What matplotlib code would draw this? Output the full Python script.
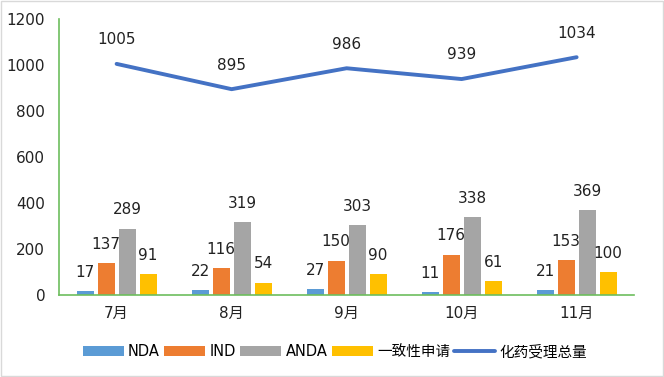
import numpy as np
import matplotlib.pyplot as plt
from matplotlib.patches import Rectangle

plt.rcParams['font.family'] = ['DejaVu Sans', 'Noto Sans CJK SC']

# --- data ---
months = ['7月', '8月', '9月', '10月', '11月']
nda = [17, 22, 27, 11, 21]
ind = [137, 116, 150, 176, 153]
anda = [289, 319, 303, 338, 369]
consist = [91, 54, 90, 61, 100]
total = [1005, 895, 986, 939, 1034]

series = [('NDA', nda, '#5B9BD5'),
          ('IND', ind, '#ED7D31'),
          ('ANDA', anda, '#A5A5A5'),
          ('一致性申请', consist, '#FFC000')]

fig = plt.figure(figsize=(6.64, 3.77), dpi=100)
ax = fig.add_axes([0.089, 0.2175, 0.866, 0.732])

x = np.arange(len(months))
w = 0.148
step = 0.183
handles = []
for i, (name, vals, col) in enumerate(series):
    pos = x + (i - 1.5) * step
    bars = ax.bar(pos, vals, width=w, color=col, label=name)
    handles.append(bars)
    for p, v in zip(pos, vals):
        ax.annotate(str(v), (p, v), xytext=(0, 8), textcoords='offset points',
                    ha='center', va='bottom', fontsize=11, color='#222222')

line, = ax.plot(x, total, color='#4472C4', lw=2.8, label='化药受理总量',
                solid_capstyle='round')
handles.append(line)
for p, v in zip(x, total):
    ax.annotate(str(v), (p, v), xytext=(0, 12), textcoords='offset points',
                ha='center', va='bottom', fontsize=11, color='#222222')

ax.set_xlim(-0.5, len(months) - 0.5)
ax.set_ylim(0, 1200)
ax.set_yticks(range(0, 1201, 200))
ax.set_xticks(x)
ax.set_xticklabels(months)
ax.tick_params(length=0, labelsize=11, colors='#222222')
ax.tick_params(axis='y', pad=10)
ax.tick_params(axis='x', pad=8)

for s in ['top', 'right']:
    ax.spines[s].set_visible(False)
for s in ['left', 'bottom']:
    ax.spines[s].set_color('#6DBE5E')
    ax.spines[s].set_linewidth(1.2)

ax.legend(handles=handles, loc='center', bbox_to_anchor=(0.48, -0.205), ncol=5,
          frameon=False, fontsize=10.5, handlelength=2.8, handleheight=0.6,
          handletextpad=0.3, columnspacing=0.3)

# light border around the figure
fig.patches.append(Rectangle((0.002, 0.003), 0.996, 0.994, transform=fig.transFigure,
                             fill=False, edgecolor='#D9D9D9', lw=1))

fig.savefig('out.png', dpi=100)
